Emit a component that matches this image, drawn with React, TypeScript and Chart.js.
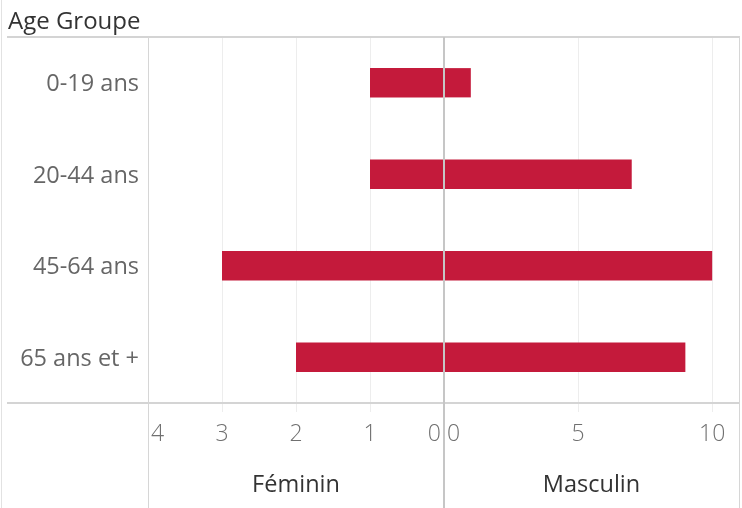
import React, { useEffect, useRef } from 'react';
import { Chart, registerables } from 'chart.js';

Chart.register(...registerables);

const categories = ['0-19 ans', '20-44 ans', '45-64 ans', '65 ans et +'];
const feminin = [1, 1, 3, 2];
const masculin = [1, 7, 10, 9];
const femininTicks = [0, 1, 2, 3, 4];
const masculinTicks = [0, 5, 10];
const headerTitle = 'Age Groupe';
const femininLabel = 'Féminin';
const masculinLabel = 'Masculin';

const FONT = '"Open Sans"';
const BAR_COLOR = '#c41a3b';

const decorPlugin = {
  id: 'decor',
  afterDatasetsDraw(chart: any) {
    const ctx = chart.ctx as CanvasRenderingContext2D;
    const { top, bottom, left, right } = chart.chartArea;
    const xF = chart.scales.xF;
    const xM = chart.scales.xM;
    const H = chart.height;
    const zero = xM.getPixelForValue(0);
    ctx.save();
    // faint outer left border
    ctx.strokeStyle = '#e2e2e2';
    ctx.lineWidth = 1;
    ctx.beginPath();
    ctx.moveTo(1.5, 0);
    ctx.lineTo(1.5, H);
    ctx.stroke();
    // horizontal header / axis lines
    ctx.strokeStyle = '#d4d4d4';
    ctx.lineWidth = 2;
    ctx.beginPath();
    ctx.moveTo(7, top);
    ctx.lineTo(right + 1, top);
    ctx.moveTo(7, bottom);
    ctx.lineTo(right + 1, bottom);
    ctx.stroke();
    // panel borders
    ctx.strokeStyle = '#d6d6d6';
    ctx.lineWidth = 1;
    ctx.beginPath();
    ctx.moveTo(Math.round(left) + 0.5, top);
    ctx.lineTo(Math.round(left) + 0.5, H);
    ctx.moveTo(Math.round(right) + 0.5, top);
    ctx.lineTo(Math.round(right) + 0.5, H);
    ctx.stroke();
    // zero line between panels
    ctx.strokeStyle = '#c6c6c6';
    ctx.lineWidth = 2;
    ctx.beginPath();
    ctx.moveTo(zero, top);
    ctx.lineTo(zero, H);
    ctx.stroke();

    // tick labels, kept inside each panel
    ctx.font = `300 23px ${FONT}`;
    ctx.fillStyle = '#707070';
    ctx.textBaseline = 'middle';
    ctx.textAlign = 'center';
    const ty = bottom + 31;
    const drawTicks = (scale: any, values: number[]) => {
      values.forEach((v) => {
        const px = scale.getPixelForValue(v);
        const text = String(v);
        const w = ctx.measureText(text).width;
        let cx = px;
        if (cx - w / 2 < scale.left + 3) cx = scale.left + 3 + w / 2;
        if (cx + w / 2 > scale.right - 3) cx = scale.right - 3 - w / 2;
        ctx.fillText(text, cx, ty);
      });
    };
    drawTicks(xF, femininTicks);
    drawTicks(xM, masculinTicks);
    ctx.restore();
  },
};

export default function App() {
  const ref = useRef<HTMLCanvasElement | null>(null);

  useEffect(() => {
    document.body.style.margin = '0';
    if (!ref.current) return;
    const chart = new Chart(ref.current, {
      type: 'bar',
      data: {
        labels: categories,
        datasets: [
          {
            label: femininLabel,
            data: feminin,
            xAxisID: 'xF',
            backgroundColor: BAR_COLOR,
            grouped: false,
            barPercentage: 0.32,
            categoryPercentage: 1,
          },
          {
            label: masculinLabel,
            data: masculin,
            xAxisID: 'xM',
            backgroundColor: BAR_COLOR,
            grouped: false,
            barPercentage: 0.32,
            categoryPercentage: 1,
          },
        ],
      },
      options: {
        indexAxis: 'y',
        animation: false,
        responsive: false,
        layout: { padding: { left: 8, right: 3, top: 0, bottom: 0 } },
        plugins: {
          legend: { display: false },
          tooltip: { enabled: false },
          title: {
            display: true,
            text: headerTitle,
            align: 'start',
            color: '#333333',
            font: { family: FONT, size: 24, weight: 'normal', lineHeight: 1.2 },
            padding: { top: 8, bottom: 0.2 },
          },
        },
        scales: {
          y: {
            type: 'category',
            position: 'left',
            grid: { display: false, drawTicks: false },
            border: { display: false },
            ticks: {
              color: '#666666',
              font: { family: FONT, size: 23.5 },
              padding: 9,
              labelOffset: 2,
            },
            afterFit: (s: any) => {
              s.width = 140;
            },
          },
          xF: {
            type: 'linear',
            position: 'bottom',
            stack: 'x',
            stackWeight: 296,
            reverse: true,
            min: 0,
            max: 4,
            afterBuildTicks: (s: any) => {
              s.ticks = femininTicks.map((v) => ({ value: v }));
            },
            grid: { color: '#ededed', lineWidth: 1, drawTicks: true, tickLength: 9 },
            border: { display: false },
            ticks: { display: false },
            title: {
              display: true,
              text: femininLabel,
              color: '#333333',
              font: { family: FONT, size: 23.5, lineHeight: 1.2 },
              padding: { top: 0, bottom: 9 },
            },
            afterFit: (s: any) => {
              s.height = 105;
            },
          },
          xM: {
            type: 'linear',
            position: 'bottom',
            stack: 'x',
            stackWeight: 295,
            min: 0,
            max: 11,
            afterBuildTicks: (s: any) => {
              s.ticks = masculinTicks.map((v) => ({ value: v }));
            },
            grid: { color: '#ededed', lineWidth: 1, drawTicks: true, tickLength: 9 },
            border: { display: false },
            ticks: { display: false },
            title: {
              display: true,
              text: masculinLabel,
              color: '#333333',
              font: { family: FONT, size: 23.5, lineHeight: 1.2 },
              padding: { top: 0, bottom: 9 },
            },
            afterFit: (s: any) => {
              s.height = 105;
            },
          },
        },
      },
      plugins: [decorPlugin],
    });
    return () => chart.destroy();
  }, []);

  return (
    <div style={{ width: 742, height: 508 }}>
      <canvas ref={ref} width={742} height={508} style={{ display: 'block' }} />
    </div>
  );
}
